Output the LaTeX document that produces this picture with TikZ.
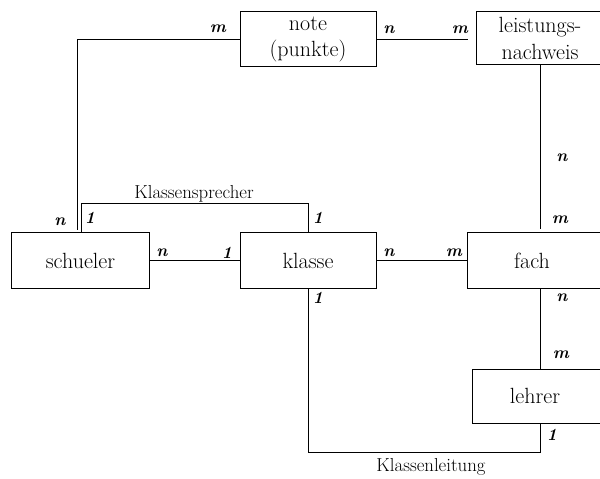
\documentclass[tikz,border=0pt]{standalone}
\usepackage{fontspec}
\begin{document}
\begin{tikzpicture}[x=1bp,y=-1bp,
  line width=1bp,
  entity/.style={draw,rectangle,inner sep=0pt,minimum height=55bp,
    align=center,font=\fontsize{22bp}{26.4bp}\selectfont},
  rel/.style={inner sep=0pt,font=\fontsize{18.8bp}{22bp}\selectfont},
  card/.style={inner sep=0pt,font=\fontsize{17bp}{20bp}\selectfont\bfseries\itshape}]
\useasboundingbox (0,0) rectangle (600,479);
\clip (0,0) rectangle (600,479);

% entities
\node[entity,minimum width=136bp] (note) at (308,39.5) {note\\(punkte)};
\node[entity,minimum width=127bp,minimum height=53bp] (leist) at (540,38.5) {leistungs-\\nachweis};
\node[entity,minimum width=137bp] (schueler) at (80.5,260.5) {schueler};
\node[entity,minimum width=136bp] (klasse) at (308,260.5) {klasse};
\node[entity,minimum width=146bp] (fach) at (540,260.5) {\hspace*{-16bp}fach};
\node[entity,minimum width=136bp,minimum height=54bp] (lehrer) at (540,396) {\hspace*{-10bp}lehrer};

% free line ends
\coordinate (noteEnd) at (77,229.5);
\coordinate (leistEnd) at (467.5,39.5);

% relationships
\draw (note.west) -| (noteEnd);
\draw (note.east) -- (leistEnd);
\draw (schueler) -- (klasse);
\draw (klasse) -- (fach);
\draw[shorten >=3.5bp] (leist.south) -- (fach.north);
\draw (fach.south) -- (lehrer.north);
\draw ([xshift=0.5bp]schueler.north) -- ++(0,-29) -| (klasse.north);
\draw (klasse.south) -- ++(0,164) -| (lehrer.south);

% relationship names
\node[rel] (sprecher) at (194,194) {Klassensprecher};
\node[rel] (leitung) at (431,467) {Klassenleitung};

% cardinalities
\node[card] (c1) at (218,29) {m};
\node[card] (c2) at (389,30) {n};
\node[card] (c3) at (460,30) {m};
\node[card] (c4) at (562,158) {n};
\node[card] (c5) at (560,220) {m};
\node[card] (c6) at (60,222) {n};
\node[card] (c7) at (90,218) {1};
\node[card] (c8) at (318,218) {1};
\node[card] (c9) at (162,253) {n};
\node[card] (c10) at (227,253) {1};
\node[card] (c11) at (389,253) {n};
\node[card] (c12) at (454,253) {m};
\node[card] (c13) at (318,298) {1};
\node[card] (c14) at (562,298) {n};
\node[card] (c15) at (561,355) {m};
\node[card] (c16) at (552,435) {1};
\end{tikzpicture}
\end{document}
